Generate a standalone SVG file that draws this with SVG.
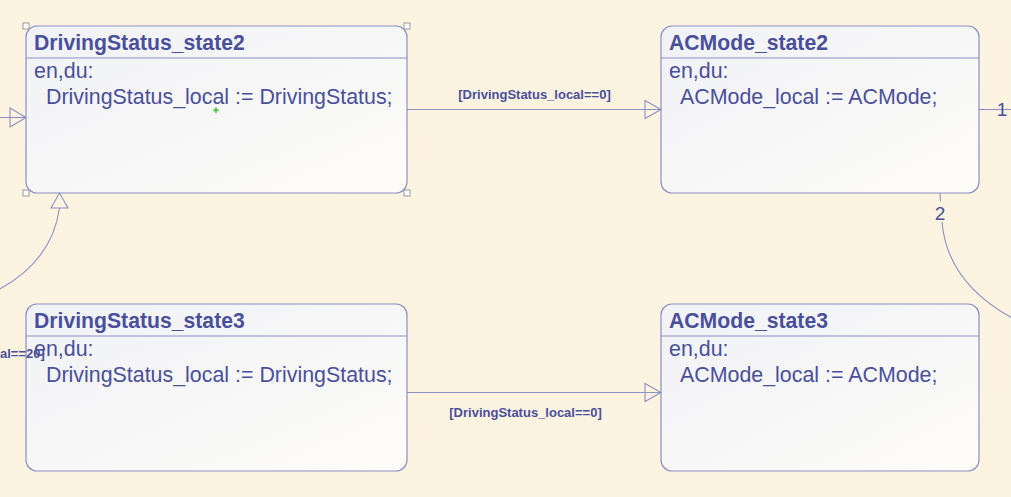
<svg xmlns="http://www.w3.org/2000/svg" width="1011" height="497" viewBox="0 0 1011 497">
<defs>
<linearGradient id="nodeFill" x1="0" y1="0" x2="1" y2="1">
<stop offset="0" stop-color="#f1f2f6"/>
<stop offset="1" stop-color="#fdfcf9"/>
</linearGradient>
<style>
.box{fill:url(#nodeFill);stroke:#8c90c4;stroke-width:1.2}
.sep{stroke:#8c90c4;stroke-width:1.2}
.title{font-family:"Liberation Sans",Arial,sans-serif;font-weight:bold;font-size:21.2px;fill:#4a4f9c}
.body{font-family:"Liberation Sans",Arial,sans-serif;font-size:21.4px;fill:#4a4f9c}
.edge{fill:none;stroke:#8c90c4;stroke-width:1.1}
.head{fill:none;stroke:#8c90c4;stroke-width:1.1;stroke-linejoin:miter}
.lbl{font-family:"Liberation Sans",Arial,sans-serif;font-weight:bold;font-size:13px;fill:#4a4f9c}
.num{font-family:"Liberation Sans",Arial,sans-serif;font-size:19px;fill:#4a4f9c}
.handle{fill:#ffffff;stroke:#9a9a9a;stroke-width:1}
</style>
</defs>
<rect width="1011" height="497" fill="#fdf3e1"/>

<g id="DrivingStatus_state2">
<rect class="box" x="26" y="26" width="381" height="167" rx="11"/>
<line class="sep" x1="26" y1="58" x2="407" y2="58"/>
<text class="title" x="34" y="50">DrivingStatus_state2</text>
<text class="body" x="34" y="78">en,du:</text>
<text class="body" x="46" y="104">DrivingStatus_local := DrivingStatus;</text>
<path d="M216,107.5 V113 M213.3,110.2 H218.8" stroke="#3cc63c" stroke-width="1.6"/>
<rect class="handle" x="23" y="23" width="6" height="6"/>
<rect class="handle" x="404" y="23" width="6" height="6"/>
<rect class="handle" x="23" y="190" width="6" height="6"/>
<rect class="handle" x="404" y="190" width="6" height="6"/>
</g>

<g id="ACMode_state2">
<rect class="box" x="661" y="26" width="318" height="167" rx="11"/>
<line class="sep" x1="661" y1="58" x2="979" y2="58"/>
<text class="title" x="669" y="50">ACMode_state2</text>
<text class="body" x="669" y="78">en,du:</text>
<text class="body" x="680" y="104">ACMode_local := ACMode;</text>
</g>

<g id="DrivingStatus_state3">
<rect class="box" x="26" y="304" width="381" height="167" rx="11"/>
<line class="sep" x1="26" y1="336" x2="407" y2="336"/>
<text class="title" x="34" y="328">DrivingStatus_state3</text>
<text class="body" x="34" y="356">en,du:</text>
<text class="body" x="46" y="382">DrivingStatus_local := DrivingStatus;</text>
</g>

<g id="ACMode_state3">
<rect class="box" x="661" y="304" width="318" height="167" rx="11"/>
<line class="sep" x1="661" y1="336" x2="979" y2="336"/>
<text class="title" x="669" y="328">ACMode_state3</text>
<text class="body" x="669" y="356">en,du:</text>
<text class="body" x="680" y="382">ACMode_local := ACMode;</text>
</g>

<g id="connectors">
<path class="edge" d="M0,117.5 H26"/>
<path class="head" d="M10,108 L26,117.5 L10,127 Z"/>
<path class="edge" d="M407,109.5 H661"/>
<path class="head" d="M645,100.5 L661,109.5 L645,118.5 Z"/>
<text class="lbl" x="534.5" y="99" text-anchor="middle">[DrivingStatus_local==0]</text>
<path class="edge" d="M407,392.5 H661"/>
<path class="head" d="M645,383.5 L661,392.5 L645,401.5 Z"/>
<text class="lbl" x="525.5" y="417" text-anchor="middle">[DrivingStatus_local==0]</text>
<path class="edge" d="M-4,291 Q52,262 59.5,208"/>
<path class="head" d="M51,208 L59.5,193 L68,208 Z"/>
<text class="lbl" x="0" y="358">al==20]</text>
<path class="edge" d="M979,109.5 H1011"/>
<text class="num" x="1002" y="116" text-anchor="middle">1</text>
<path class="edge" d="M940,193 L940.5,201"/>
<path class="edge" d="M942,222 Q947,282 1012,318"/>
<text class="num" x="940" y="220" text-anchor="middle">2</text>
</g>
</svg>
